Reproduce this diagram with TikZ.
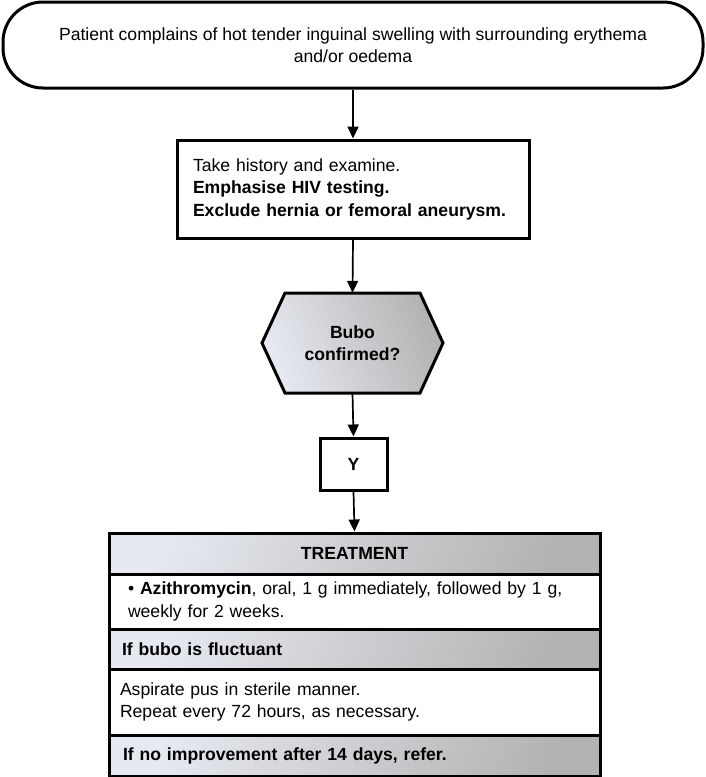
\documentclass[tikz,border=0pt]{standalone}
\usepackage{fontspec}
\setmainfont{Liberation Sans}
\usetikzlibrary{arrows.meta,calc}
\definecolor{shlight}{HTML}{E6E9F0}
\definecolor{shdark}{HTML}{B3B3B3}
\begin{document}
\begin{tikzpicture}[x=1pt,y=-1pt,
  every node/.style={font=\fontsize{17.6}{22.5}\selectfont, inner sep=0pt},
  box/.style={draw, line width=3pt, fill=white},
  shadebox/.style={draw, line width=3pt, left color=shlight, right color=shdark, shading angle=70},
  arr/.style={line width=1.7pt, -{Triangle[length=12pt,width=11pt]}},
  sect/.style={minimum width=491pt, align=left},
  boldtxt/.style={font=\fontsize{17.6}{22.5}\selectfont\bfseries}
]
\useasboundingbox (0,0) rectangle (706,777);

% start terminal
\node[box, rounded corners=40pt, minimum width=700pt, minimum height=86pt, align=center] (start) at (353,45)
  {Patient complains of hot tender inguinal swelling with surrounding erythema\\and/or oedema};

% history box
\node[box, minimum width=352pt, minimum height=98pt, text width=320pt, inner xsep=16pt, align=left] (hist) at (353,189)
  {Take history and examine.\\\textbf{Emphasise HIV testing.}\\\textbf{Exclude hernia or femoral aneurysm.}};

% decision hexagon
\draw[line width=3pt, left color=shlight, right color=shdark, shading angle=110]
  (285,293) -- (420,293) -- (443,343) -- (420,393) -- (285,393) -- (262,343) -- cycle;
\node[minimum width=135pt, minimum height=100pt, align=center, boldtxt] (dec) at (352.5,343)
  {Bubo\\confirmed?};

% Y box
\node[box, minimum width=67pt, minimum height=52pt, boldtxt] (yes) at (353.5,464) {Y};

% treatment stack
\node[shadebox, minimum width=491pt, minimum height=41pt, boldtxt] (hdr1) at (354.5,553.5) {TREATMENT};
\node[box, sect, minimum height=55pt, text width=453pt, inner xsep=19pt] (sec1) at (354.5,601.5)
  {• \textbf{Azithromycin}, oral, 1 g immediately, followed by 1 g,\\weekly for 2 weeks.};
\node[shadebox, sect, minimum height=40pt, text width=465pt, inner xsep=13pt, boldtxt] (hdr2) at (354.5,649) {If bubo is fluctuant};
\node[box, sect, minimum height=66pt, text width=469pt, inner xsep=11pt] (sec2) at (354.5,702)
  {Aspirate pus in sterile manner.\\Repeat every 72 hours, as necessary.};
\node[shadebox, sect, minimum height=41pt, text width=463pt, inner xsep=14pt, boldtxt] (hdr3) at (354.5,755.5) {If no improvement after 14 days, refer.};

% connectors
\draw[arr] (start.south) -- (hist.north);
\draw[arr] (hist.south) -- (dec.north);
\draw[arr] (dec.south) -- (yes.north);
\draw[arr] (yes.south) -- (hdr1.north);
\end{tikzpicture}
\end{document}
